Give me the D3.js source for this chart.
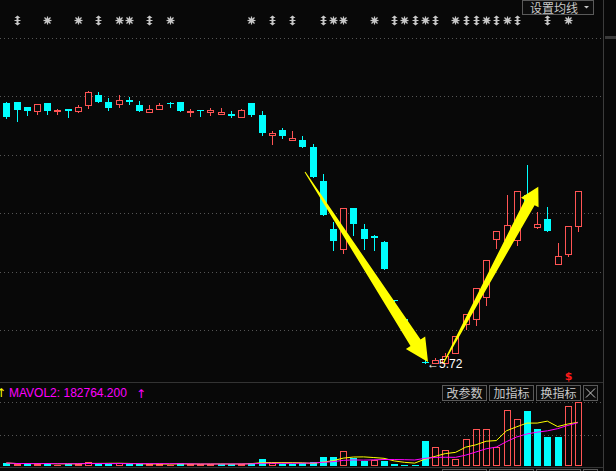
<!DOCTYPE html>
<html><head><meta charset="utf-8">
<script src="https://cdn.jsdelivr.net/npm/d3@7"></script>
<style>html,body{margin:0;padding:0;background:#080808;overflow:hidden}</style>
</head><body>
<svg id="c" width="616" height="471"></svg>
<script>
// ---------- data ----------
const opens  = [7.94,7.95,7.91,7.87,7.94,7.87,7.89,7.87,7.92,8.01, 7.95,7.93,7.97,7.92,7.86,7.89,7.94,7.95,7.86,7.88,
                7.86,7.85,7.85,7.82,7.94,7.84,7.67,7.71,7.62,7.62, 7.56,7.27,6.86,6.69,7.04,6.86,6.80,6.75,6.26,6.09,
                5.83,5.73,5.72,5.72,5.80,6.05,6.09,6.28,6.78,6.77, 6.77,7.15,6.88,6.95,6.56,6.65,6.89];
const highs  = [7.95,7.95,7.91,7.93,7.94,7.89,7.89,7.92,8.04,8.03, 7.98,8.01,7.99,7.96,7.92,7.94,7.95,7.95,7.89,7.88,
                7.90,7.90,7.87,7.89,7.94,7.87,7.70,7.73,7.70,7.66, 7.59,7.33,6.92,7.04,7.04,6.91,6.81,6.76,6.26,6.10,
                5.83,5.75,5.76,5.80,5.95,6.14,6.36,6.60,6.85,7.15, 7.19,7.41,7.01,7.05,6.74,6.89,7.19];
const lows   = [7.81,7.79,7.84,7.85,7.85,7.85,7.82,7.86,7.90,7.95, 7.88,7.91,7.93,7.87,7.86,7.89,7.91,7.87,7.83,7.83,
                7.84,7.85,7.82,7.82,7.83,7.67,7.59,7.64,7.62,7.56, 7.31,6.98,6.68,6.66,6.81,6.69,6.68,6.52,6.25,5.98,
                5.82,5.72,5.72,5.72,5.80,6.01,6.04,6.21,6.70,6.77, 6.73,7.00,6.87,6.85,6.56,6.63,6.85];
const closes = [7.82,7.88,7.87,7.93,7.87,7.88,7.87,7.91,8.03,7.95, 7.90,7.97,7.95,7.87,7.89,7.92,7.93,7.87,7.87,7.87,
                7.88,7.86,7.83,7.88,7.84,7.68,7.68,7.66,7.64,7.56, 7.31,6.98,6.76,7.04,6.91,6.78,6.79,6.52,6.25,5.99,
                5.82,5.72,5.74,5.78,5.95,6.14,6.36,6.60,6.85,6.90, 7.19,7.02,6.91,6.85,6.63,6.89,7.19];
const volumes = [12700,8400,10500,8600,12300,6300,8900,10300,16800,12100, 8200,10600,6500,10100,8700,8100,6200,12900,7800,6600,
                 8500,8300,10400,9100,13200,29500,10800,8900,8300,10700, 16500,38000,37600,63300,33800,19800,24100,21100,8400,4300,
                 3000,106800,80200,67500,29500,113900,156100,155800,81400,236300, 198300,233400,156100,122400,121900,251900,270142];
const priceTicks = [6.0, 6.5, 7.0, 7.5, 8.0, 8.5];
const volTicks = [132000, 269000];
const maPeriods = [5, 10];
const maColors = ["#ffff00", "#ff00ff"];
// info-mine markers: candle index and kind (s = star, d = double arrow)
const mineIdx  = [1,4,7,9,11,12,14,16,24,26,28,31,32,33,36,38,39,40,41,42,44,45,46,47,48,49,50,53,55];
const mineKind = ["d","s","s","d","s","s","d","s","s","d","d","d","s","s","s","d","s","d","s","d","s","d","d","s","d","s","d","d","s"];
// hand-drawn arrows: [index, price] from -> to
const arrowFrom = [[29.26, 7.35], [42.82, 5.718]];
const arrowTo   = [[41.31, 5.726], [52.11, 7.225]];
const signalIdx = [55];
const buttonLabels = ["改参数", "加指标", "换指标"];

// ---------- layout ----------
const svg = d3.select("#c");
const W = 616, H = 471, RIGHT = 603.5;
const UP = "#ff5454", DOWN = "#00ffff", GRID = "#555", BG = "#080808";
const n = closes.length;
const x = d3.scaleLinear().domain([0, n - 1]).range([6.3, 578]);
const y = d3.scaleLinear().domain([6.0, 8.5]).range([330, 37.5]);
const yv = d3.scaleLinear().domain([0, 350000]).range([466, 466 - 350000 / 4220]);
const cx = i => Math.round(x(i));

svg.append("rect").attr("width", W).attr("height", H).attr("fill", BG);

// grid lines
svg.append("g").selectAll("line").data(priceTicks).join("line")
  .attr("x1", 0).attr("x2", RIGHT).attr("y1", d => Math.round(y(d)) + 0.5).attr("y2", d => Math.round(y(d)) + 0.5)
  .attr("stroke", GRID).attr("stroke-dasharray", "1 3");
svg.append("g").selectAll("line").data(volTicks).join("line")
  .attr("x1", 0).attr("x2", RIGHT).attr("y1", d => Math.round(yv(d)) + 0.5).attr("y2", d => Math.round(yv(d)) + 0.5)
  .attr("stroke", GRID).attr("stroke-dasharray", "1 3");

// panel borders
svg.append("line").attr("x1", 0).attr("x2", RIGHT).attr("y1", 382.5).attr("y2", 382.5).attr("stroke", "#333");
svg.append("line").attr("x1", 0).attr("x2", RIGHT).attr("y1", 467.5).attr("y2", 467.5).attr("stroke", "#333");
svg.append("line").attr("x1", RIGHT).attr("x2", RIGHT).attr("y1", 0).attr("y2", H).attr("stroke", "#3c3c3c");
svg.append("rect").attr("x", 605).attr("y", 36).attr("width", 11).attr("height", 3).attr("fill", "#3a3a3a");

// info mines
const mines = svg.append("g").attr("fill", "#c8c8c8").attr("stroke", "#c8c8c8");
mineIdx.forEach((i, k) => {
  const px = cx(i) + 0.5, py = 20.5;
  if (mineKind[k] === "s") {
    const g = mines.append("g").attr("transform", `translate(${px},${py})`);
    g.append("circle").attr("r", 2.3).attr("stroke", "none");
    [[-4,0,4,0],[0,-4,0,4],[-3,-3,3,3],[-3,3,3,-3]].forEach(l =>
      g.append("line").attr("x1", l[0]).attr("y1", l[1]).attr("x2", l[2]).attr("y2", l[3]).attr("stroke-width", 1.2));
  } else {
    mines.append("path").attr("stroke", "none")
      .attr("transform", `translate(${px},${py})`)
      .attr("d", "M0,-5 L3,-2.5 L1,-2.5 L1,-0.5 L3,-0.5 L3,0.5 L1,0.5 L1,2.5 L3,2.5 L0,5 L-3,2.5 L-1,2.5 L-1,0.5 L-3,0.5 L-3,-0.5 L-1,-0.5 L-1,-2.5 L-3,-2.5 Z");
  }
});

// candles
const cg = svg.append("g");
d3.range(n).forEach(i => {
  const o = opens[i], c = closes[i], h = highs[i], l = lows[i];
  const up = c > o || (c === o && i > 0 && c >= closes[i - 1]);
  const col = up ? UP : DOWN;
  const X = cx(i);
  const top = Math.round(y(Math.max(o, c))), bot = Math.round(y(Math.min(o, c)));
  const hy = Math.round(y(h)), ly = Math.round(y(l));
  const wx = X + 0.5;
  if (up) {
    if (hy < top) cg.append("line").attr("x1", wx).attr("x2", wx).attr("y1", hy).attr("y2", top).attr("stroke", col);
    if (ly > bot) cg.append("line").attr("x1", wx).attr("x2", wx).attr("y1", bot).attr("y2", ly + 1).attr("stroke", col);
    if (bot - top >= 2) {
      cg.append("rect").attr("x", X - 3 + 0.5).attr("y", top + 0.5).attr("width", 6).attr("height", bot - top)
        .attr("fill", BG).attr("stroke", col);
    } else {
      cg.append("rect").attr("x", X - 3).attr("y", top).attr("width", 7).attr("height", Math.max(1, bot - top + 1)).attr("fill", col);
    }
  } else {
    cg.append("line").attr("x1", wx).attr("x2", wx).attr("y1", hy).attr("y2", ly + 1).attr("stroke", col);
    cg.append("rect").attr("x", X - 3).attr("y", top).attr("width", 7).attr("height", Math.max(1, bot - top)).attr("fill", col);
  }
});

// low label
const lowI = d3.minIndex(lows);
svg.append("text").attr("x", cx(lowI) + 2).attr("y", Math.round(y(lows[lowI])) + 5)
  .attr("fill", "#fff").attr("font-family", "Liberation Sans, Arial, sans-serif").attr("font-size", 12)
  .text("←" + lows[lowI].toFixed(2));

// signal marks
signalIdx.forEach(i => svg.append("text").attr("x", cx(i) + 0.5).attr("y", 380).attr("text-anchor", "middle")
  .attr("fill", "#ff1a1a").attr("font-family", "DejaVu Sans, sans-serif").attr("font-weight", "bold").attr("font-size", 11).text("$"));

// arrows
function arrowPts(x0, y0, x1, y1, w0, w1, hw, hl) {
  const dx = x1 - x0, dy = y1 - y0, L = Math.hypot(dx, dy);
  const ux = dx / L, uy = dy / L, nx = -uy, ny = ux;
  const bx = x1 - ux * hl, by = y1 - uy * hl;
  return [[x0 + nx * w0 / 2, y0 + ny * w0 / 2], [bx + nx * w1 / 2, by + ny * w1 / 2], [bx + nx * hw / 2, by + ny * hw / 2],
          [x1, y1], [bx - nx * hw / 2, by - ny * hw / 2], [bx - nx * w1 / 2, by - ny * w1 / 2], [x0 - nx * w0 / 2, y0 - ny * w0 / 2]];
}
const arrowSizes = [[1, 12, 23, 23], [1, 11, 20, 18]];
arrowFrom.forEach((f, k) => {
  const t = arrowTo[k], s = arrowSizes[k];
  const pts = arrowPts(x(f[0]), y(f[1]), x(t[0]), y(t[1]), s[0], s[1], s[2], s[3]);
  svg.append("polygon").attr("points", pts.map(p => p.join(",")).join(" ")).attr("fill", "#ffff00");
});

// volume bars
const vg = svg.append("g");
d3.range(n).forEach(i => {
  const up = i === 0 ? closes[i] >= opens[i] : closes[i] >= closes[i - 1];
  const X = cx(i), top = Math.round(yv(volumes[i])), bot = 466;
  if (up) {
    if (bot - top >= 3) vg.append("rect").attr("x", X - 3 + 0.5).attr("y", top + 0.5).attr("width", 6).attr("height", bot - top - 1)
      .attr("fill", "none").attr("stroke", UP);
    else vg.append("rect").attr("x", X - 3).attr("y", top).attr("width", 7).attr("height", Math.max(1, bot - top)).attr("fill", UP);
  } else {
    vg.append("rect").attr("x", X - 3).attr("y", top).attr("width", 7).attr("height", Math.max(1, bot - top)).attr("fill", DOWN);
  }
});

// MAVOL lines
const mas = maPeriods.map(p => volumes.map((v, i) => d3.mean(volumes.slice(Math.max(0, i - p + 1), i + 1))));
mas.forEach((m, k) => {
  svg.append("path").attr("d", d3.line().x((d, i) => x(i)).y(d => yv(d))(m))
    .attr("fill", "none").attr("stroke", maColors[k]).attr("stroke-width", 1);
});

// volume header
svg.append("text").attr("x", -4).attr("y", 397).attr("fill", "#ffff00")
  .attr("font-family", "DejaVu Sans, sans-serif").attr("font-size", 12).text("↑");
svg.append("text").attr("x", 9).attr("y", 397).attr("fill", "#ff00ff")
  .attr("font-family", "Liberation Sans, Arial, sans-serif").attr("font-size", 12)
  .text("MAVOL2: " + mas[1][n - 1].toFixed(3));
svg.append("text").attr("x", 136).attr("y", 398).attr("fill", "#ff00ff")
  .attr("font-family", "DejaVu Sans, sans-serif").attr("font-size", 12).text("↑");

// buttons
function buttonRow(yy) {
  buttonLabels.forEach((t, k) => {
    const bx = 442.5 + k * 47;
    svg.append("rect").attr("x", bx).attr("y", yy).attr("width", 44).attr("height", 15)
      .attr("fill", "#0c0c0c").attr("stroke", "#5a5a5a");
    svg.append("text").attr("x", bx + 22).attr("y", yy + 12).attr("text-anchor", "middle").attr("fill", "#c8c8c8")
      .attr("font-family", "Noto Sans CJK SC, sans-serif").attr("font-size", 12).text(t);
  });
  svg.append("rect").attr("x", 583.5).attr("y", yy).attr("width", 14).attr("height", 15).attr("fill", "#0c0c0c").attr("stroke", "#5a5a5a");
  svg.append("path").attr("d", `M586,${yy + 3} L595,${yy + 12} M595,${yy + 3} L586,${yy + 12}`).attr("stroke", "#c8c8c8");
}
buttonRow(385.5);
buttonRow(469.5);

// top button
svg.append("rect").attr("x", 522.5).attr("y", 0.5).attr("width", 71).attr("height", 14).attr("fill", "#0c0c0c").attr("stroke", "#5a5a5a");
svg.append("text").attr("x", 530).attr("y", 12.5).attr("fill", "#c8c8c8")
  .attr("font-family", "Noto Sans CJK SC, sans-serif").attr("font-size", 12).text("设置均线");
svg.append("path").attr("d", "M584,6 L589,6 L586.5,8.5 Z").attr("fill", "#c8c8c8");
</script>
</body></html>
